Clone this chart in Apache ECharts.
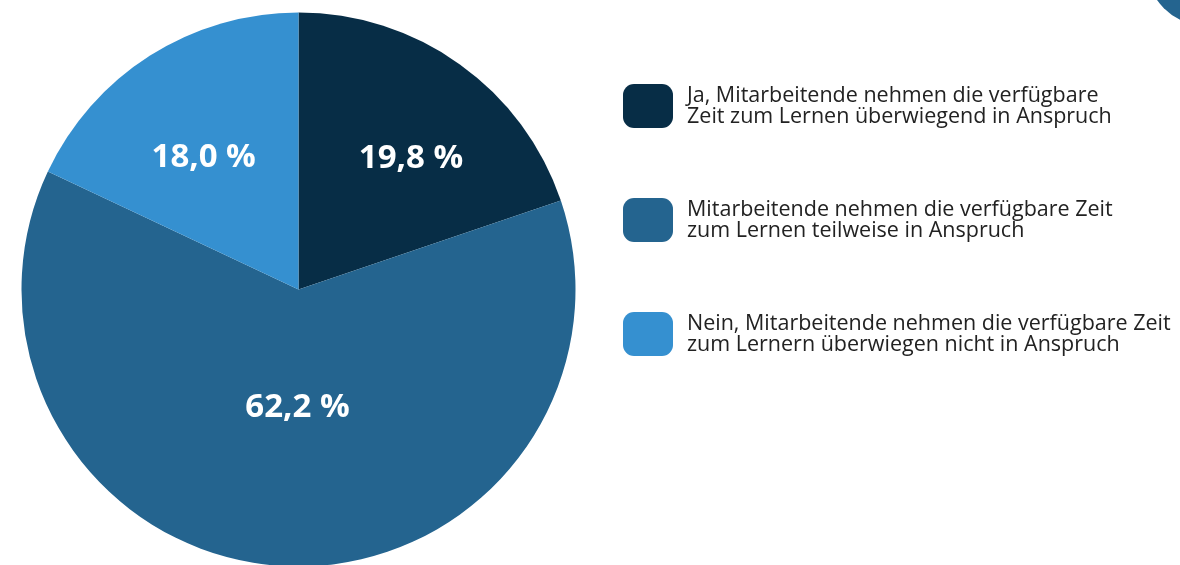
<!DOCTYPE html>
<html>
<head>
<meta charset="utf-8">
<script src="https://cdn.jsdelivr.net/npm/echarts@6/dist/echarts.min.js"></script>
<style>
  html, body { margin: 0; padding: 0; background: #fff; }
  #chart { width: 1180px; height: 565px; }
</style>
</head>
<body>
<div id="chart"></div>
<script>
// Anteile in Prozent
const categories = [
  'Ja, Mitarbeitende nehmen die verfügbare\nZeit zum Lernen überwiegend in Anspruch',
  'Mitarbeitende nehmen die verfügbare Zeit\nzum Lernen teilweise in Anspruch',
  'Nein, Mitarbeitende nehmen die verfügbare Zeit\nzum Lernern überwiegen nicht in Anspruch'
]
const values = [19.8, 62.2, 18.0]

const colors = ['#072d46', '#24648f', '#3590d0']
// Verschiebung der Beschriftungen gegenüber 'inside'
const labelOffsets = [[30, -16], [7, -23], [-19, -12]]

const chart = echarts.init(document.getElementById('chart'))

chart.setOption({
  animation: false,
  color: colors,
  legend: {
    orient: 'vertical',
    left: 623,
    top: 83,
    padding: 0,
    itemWidth: 50,
    itemHeight: 44,
    itemGap: 68,
    icon: 'roundRect',
    selectedMode: false,
    textStyle: {
      fontFamily: 'Open Sans',
      fontSize: 21.5,
      lineHeight: 21,
      color: '#222',
      padding: [4, 0, 0, 9]
    },
    data: categories
  },
  graphic: [
    {
      type: 'circle',
      shape: { cx: 1207, cy: -35, r: 61 },
      style: { fill: '#24648f' },
      silent: true
    }
  ],
  series: [
    {
      type: 'pie',
      center: [298.5, 289.5],
      radius: 277,
      startAngle: 90,
      clockwise: true,
      labelLine: { show: false },
      label: {
        show: true,
        position: 'inside',
        color: '#fff',
        fontFamily: 'Open Sans',
        fontWeight: 'bold',
        fontSize: 33,
        formatter: p => p.value.toFixed(1).replace('.', ',') + ' %'
      },
      emphasis: { disabled: true },
      data: categories.map((name, i) => ({
        name: name,
        value: values[i],
        label: { offset: labelOffsets[i] }
      }))
    }
  ]
})
</script>
</body>
</html>
